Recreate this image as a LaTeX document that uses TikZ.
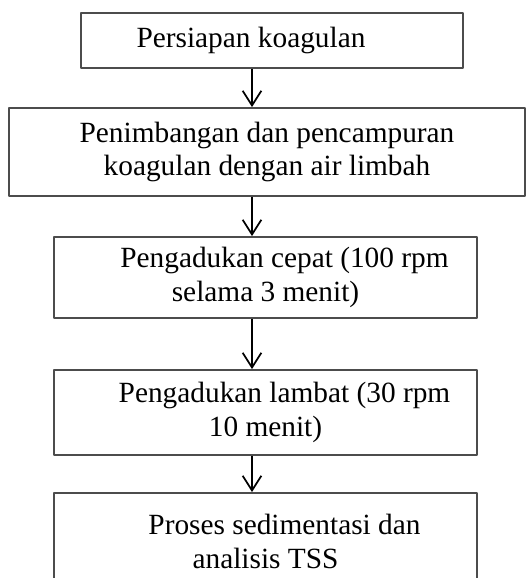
\documentclass[tikz,border=0pt]{standalone}
\usepackage{fontspec}
\setmainfont{Liberation Serif}
\usetikzlibrary{arrows.meta}
\usetikzlibrary{positioning}

\tikzset{
  stepbox/.style={draw=black!70, line width=1.4pt, rectangle, align=center, inner sep=0pt,
    font=\fontsize{22}{25}\selectfont},
  flowarrow/.style={-{Straight Barb[length=11pt,width=14pt]}, line width=1.3pt, color=black},
}

\begin{document}
\begin{tikzpicture}[line join=round, x=0.75pt, y=-0.75pt]
  \useasboundingbox (0,0) rectangle (526,578);
  \coordinate (axis) at (252,0);
  % steps of the jar test
  \node[stepbox, minimum width=286.5pt, minimum height=41.25pt] (prep) at (272,40.5)
    {Persiapan koagulan\hspace*{31.5pt}};
  \node[stepbox, minimum width=387pt, minimum height=66pt] (mix) at (267,152)
    {Penimbangan dan pencampuran\\koagulan dengan air limbah};
  \node[stepbox, minimum width=317.25pt, minimum height=60.75pt] (fast) at (265.5,277.5)
    {\hspace*{28.5pt}Pengadukan cepat (100 rpm\\selama 3 menit)};
  \node[stepbox, minimum width=317.25pt, minimum height=63.75pt] (slow) at (265.5,412.5)
    {\hspace*{28.5pt}Pengadukan lambat (30 rpm\\10 menit)};
  \node[stepbox, minimum width=317.25pt, minimum height=72.75pt] (sed) at (265.5,541.5)
    {\hspace*{28.5pt}Proses sedimentasi dan\\analisis TSS};
  % arrows
  \foreach \a/\b in {prep/mix, mix/fast, fast/slow, slow/sed}
    \draw[flowarrow] (\a.south -| axis) -- (\b.north -| axis);
\end{tikzpicture}
\end{document}
